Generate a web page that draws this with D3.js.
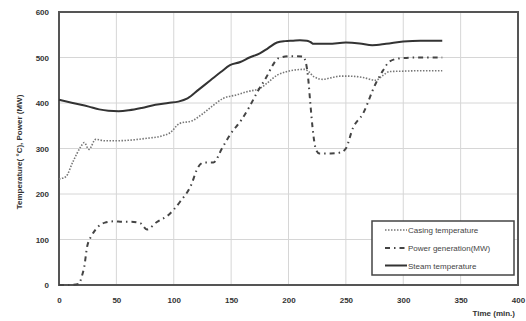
<!DOCTYPE html>
<html><head><meta charset="utf-8">
<script src="https://cdn.jsdelivr.net/npm/d3@7"></script>
<style>body{margin:0;background:#fff}svg{display:block}text{font-family:"Liberation Sans",Arial,sans-serif;}</style>
</head><body><svg id="c" width="526" height="321"></svg>
<script>
const xTicks = [0,50,100,150,200,250,300,350,400];
const yTicks = [0,100,200,300,400,500,600];
const casingT = [0,2,6,12,19,22,26,32,40,49,60,75,90,97,105,116,124,133,143,155,164,175,182,190,197,204,214,218,222,230,238,245,253,265,276,282,288,300,315,334];
const casingV = [233,234,238,270,304,313,298,320,317,317,318,322,328,335,355,361,374,392,410,418,425,432,445,461,468,472,474,468,458,452,456,459,459,456,450,460,469,470,471,471];
const powerT = [0,8,17,20,22,24.5,28.8,34,40,48,55,63,70.8,76.6,85,95.4,105.5,115.7,120,126,134.5,142,149,159,166,173,181,186,191,201,212.6,215,217,219,221,224,227,237,245,250,256,265,276,282,288,296.6,310,334];
const powerV = [0,0,2,20,40,84,110,128,137,140,139,139,136,122,138,154,183,223,253,269,269,300,330,363,392,425,458,482,498,503,502,490,458,400,345,297,289,289,291,300,344,377,443,470,491,498,500,500];
const steamT = [0,12,26,35,43,52,61,72,84,95,104,112,122,132,141,149,158,166,175,182,190,197,204,210,216,219,222,235,250,262,273,285,300,315,334];
const steamV = [407,400,392,386,383,382,384,389,396,400,403,410,430,450,468,483,490,500,509,520,533,536,537,538,537,534,530,530,533,531,527,530,535,537,537];
const seriesNames = ["Casing temperature","Power generation(MW)","Steam temperature"];

const svg = d3.select("#c");
const L=59, R=518, T=12, B=285;
const x = d3.scaleLinear().domain([0,400]).range([L,R]);
const y = d3.scaleLinear().domain([0,600]).range([B,T]);

// grid
svg.append("g").selectAll("line").data(xTicks).join("line")
  .attr("x1",d=>x(d)).attr("x2",d=>x(d)).attr("y1",T).attr("y2",B)
  .attr("stroke","#d6d6d6").attr("stroke-width",1);
svg.append("g").selectAll("line").data(yTicks).join("line")
  .attr("y1",d=>y(d)).attr("y2",d=>y(d)).attr("x1",L).attr("x2",R)
  .attr("stroke","#d6d6d6").attr("stroke-width",1);

// axes labels
const xa = svg.append("g").attr("transform",`translate(0,${B})`)
  .call(d3.axisBottom(x).tickValues(xTicks).tickSize(0).tickPadding(12));
xa.select(".domain").remove();
xa.selectAll("text").attr("font-size","8px").attr("fill","#333").attr("font-weight","bold")
  .attr("font-family","'Liberation Sans',Arial,sans-serif");
const ya = svg.append("g").attr("transform",`translate(${L},0)`)
  .call(d3.axisLeft(y).tickValues(yTicks).tickSize(0).tickPadding(10));
ya.select(".domain").remove();
ya.selectAll("text").attr("font-size","8px").attr("fill","#333").attr("font-weight","bold")
  .attr("font-family","'Liberation Sans',Arial,sans-serif");

// frame
svg.append("rect").attr("x",L).attr("y",T).attr("width",R-L).attr("height",B-T)
  .attr("fill","none").attr("stroke","#555").attr("stroke-width",2);

const line = (ts,vs)=>d3.line().x((d,i)=>x(ts[i])).y((d,i)=>y(vs[i])).curve(d3.curveMonotoneX)(vs);

svg.append("path").attr("d",line(casingT,casingV)).attr("fill","none")
  .attr("stroke","#777").attr("stroke-width",1.6).attr("stroke-dasharray","1.5,1.5");
svg.append("path").attr("d",line(powerT,powerV)).attr("fill","none")
  .attr("stroke","#444").attr("stroke-width",2).attr("stroke-dasharray","5,4,1.5,4");
svg.append("path").attr("d",line(steamT,steamV)).attr("fill","none")
  .attr("stroke","#333").attr("stroke-width",2);

// titles
svg.append("text").attr("transform","translate(22,152) rotate(-90)").attr("text-anchor","middle")
  .attr("font-size","8px").attr("font-weight","bold").attr("fill","#333").text("Temperature( °C), Power (MW)");
svg.append("text").attr("x",515).attr("y",316).attr("text-anchor","end")
  .attr("font-size","8px").attr("font-weight","bold").attr("fill","#333").text("Time (min.)");

// legend
const lg = svg.append("g");
lg.append("rect").attr("x",372).attr("y",221).attr("width",142).attr("height",54)
  .attr("fill","#fff").attr("stroke","#444").attr("stroke-width",1.5);
const styles = [
  {c:"#777",w:1.6,d:"1.5,1.5"},
  {c:"#444",w:2,d:"5,4,1.5,4"},
  {c:"#333",w:2,d:null}
];
const ly = [230,248,265.5];
seriesNames.forEach((n,i)=>{
  lg.append("line").attr("x1",385).attr("x2",407).attr("y1",ly[i]).attr("y2",ly[i])
    .attr("stroke",styles[i].c).attr("stroke-width",styles[i].w).attr("stroke-dasharray",styles[i].d);
  lg.append("text").attr("x",408).attr("y",ly[i]+3).attr("font-size","8px").attr("fill","#444").text(n);
});
</script></body></html>
